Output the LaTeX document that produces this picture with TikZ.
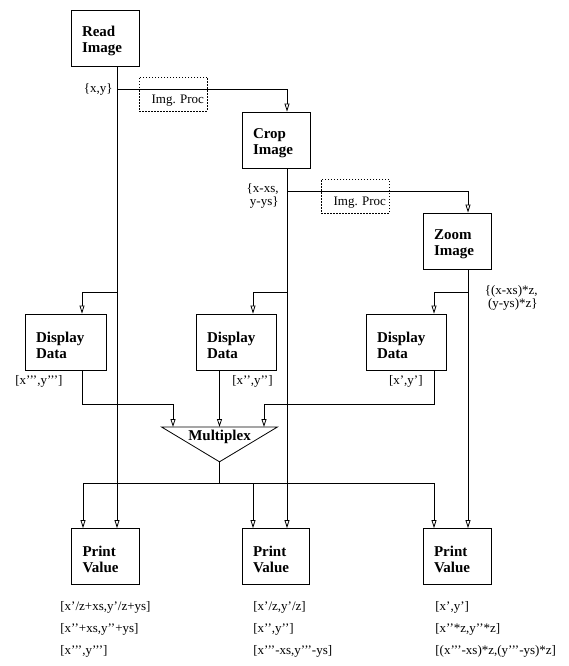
\documentclass[tikz,border=0pt]{standalone}
\usepackage{fontspec}
\setmainfont{Liberation Serif}
\usetikzlibrary{positioning,arrows.meta}

\begin{document}
\begin{tikzpicture}[
			x=1pt,y=-1pt,
			line width=0.8pt,
			box/.style={
				draw,
				align=left,
				font=\fontsize{15}{16}\selectfont\bfseries,
				text width=#1,
				inner xsep=11pt,
				inner ysep=0pt,
				minimum height=56pt,
				execute at begin node={\rule{0pt}{17pt}}
			},
			procbox/.style={
				draw,
				dash pattern=on 1.5pt off 1.5pt,
				align=right,
				font=\fontsize{13}{13}\selectfont,
				text width=62pt,
				inner xsep=3pt,
				inner ysep=0pt,
				text height=26pt,
				text depth=8pt
			},
			lbl/.style={font=\fontsize{13}{13}\selectfont,inner sep=1pt},
			vals/.style={font=\fontsize{13}{22}\selectfont,align=left,inner sep=0pt},
			arrow/.style={-{Triangle[open,length=8pt,width=5pt]}}
			]
			
			\useasboundingbox (0,0) rectangle (568,666);
			
			\node[box=46pt] (read) at (105,38) {Read\\Image};
			\node[box=46pt] (crop) at (276,140) {Crop\\Image};
			\node[box=46pt] (zoom) at (457,241) {Zoom\\Image};
			
			\node[box=59pt] (disp1) at (65.5,342) {Display\\Data};
			\node[box=58pt] (disp2) at (236,342) {Display\\Data};
			\node[box=58pt] (disp3) at (406,342) {Display\\Data};
			
			\node[box=46pt] (print1) at (105.5,556.5) {Print\\Value};
			\node[box=45pt] (print2) at (275.5,556.5) {Print\\Value};
			\node[box=46pt] (print3) at (457,556.5) {Print\\Value};
			
			\node[procbox] (proc1) at (173,94) {Img.\ Proc};
			\node[procbox] (proc2) at (355,196) {Img.\ Proc};
			
			\node[anchor=north,minimum width=115pt,inner sep=0pt,text height=13pt,text depth=21pt,
				font=\fontsize{15}{15}\selectfont\bfseries] (mux) at (219.5,427) {Multiplex};
			\draw (mux.north west) -- (mux.north east) -- (mux.south) -- cycle;
			
			\coordinate (j1) at (117,89);
			\coordinate (j2) at (117,292);
			\coordinate (j3) at (287,191);
			\coordinate (j4) at (287,292);
			\coordinate (j5) at (468,292);
			\coordinate (j6) at (219.5,483);
			\coordinate (m1) at (173,404);
			\coordinate (m3) at (264,404);
			
			\draw[arrow] (read.south -| j1) -- (print1.north -| j1);
			\draw[arrow] (j1) -| (crop.north -| j3);
			\draw[arrow] (j2) -| ([xshift=16.5pt]disp1.north);
			
			\draw[arrow] (crop.south -| j3) -- (print2.north -| j3);
			\draw[arrow] (j3) -| (zoom.north -| j5);
			\draw[arrow] (j4) -| ([xshift=17pt]disp2.north);
			
			\draw[arrow] (zoom.south -| j5) -- (print3.north -| j5);
			\draw[arrow] (j5) -| ([xshift=28pt]disp3.north);
			
			\draw[arrow] ([xshift=16.5pt]disp1.south) |- (m1) -- (m1 |- mux.north);
			\draw[arrow] (mux.north |- disp2.south) -- (mux.north);
			\draw[arrow] ([xshift=28pt]disp3.south) |- (m3) -- (m3 |- mux.north);
			
			\draw (mux.south) -- (j6);
			\draw[arrow] (j6) -| ([xshift=-22.5pt]print1.north);
			\draw[arrow] (j6) -| ([xshift=-22.5pt]print2.north);
			\draw[arrow] (j6) -| ([xshift=-23pt]print3.north);
			
			\node[lbl,anchor=east] (lxy) at (114,89) {\{x,y\}};
			\node[lbl,anchor=east,align=right] (lcrop) at (280,196) {\{x-xs,\\y-ys\}};
			\node[lbl,anchor=east,align=right] (lzoom) at (539,298) {\{(x-xs)*z,\\(y-ys)*z\}};
			
			\node[lbl,anchor=base west] (ld1) at (14,384) {[x’’’,y’’’]};
			\node[lbl,anchor=base east] (ld2) at (274,384) {[x’’,y’’]};
			\node[lbl,anchor=base east] (ld3) at (424,384) {[x’,y’]};
			
			\node[vals,anchor=north west] (vals1) at (60,601) {[x’/z+xs,y’/z+ys]\\{}[x’’+xs,y’’+ys]\\{}[x’’’,y’’’]};
			\node[vals,anchor=north west] (vals2) at (253,601) {[x’/z,y’/z]\\{}[x’’,y’’]\\{}[x’’’-xs,y’’’-ys]};
			\node[vals,anchor=north west] (vals3) at (435,601) {[x’,y’]\\{}[x’’*z,y’’*z]\\{}[(x’’’-xs)*z,(y’’’-ys)*z]};
			
		\end{tikzpicture}
\end{document}
